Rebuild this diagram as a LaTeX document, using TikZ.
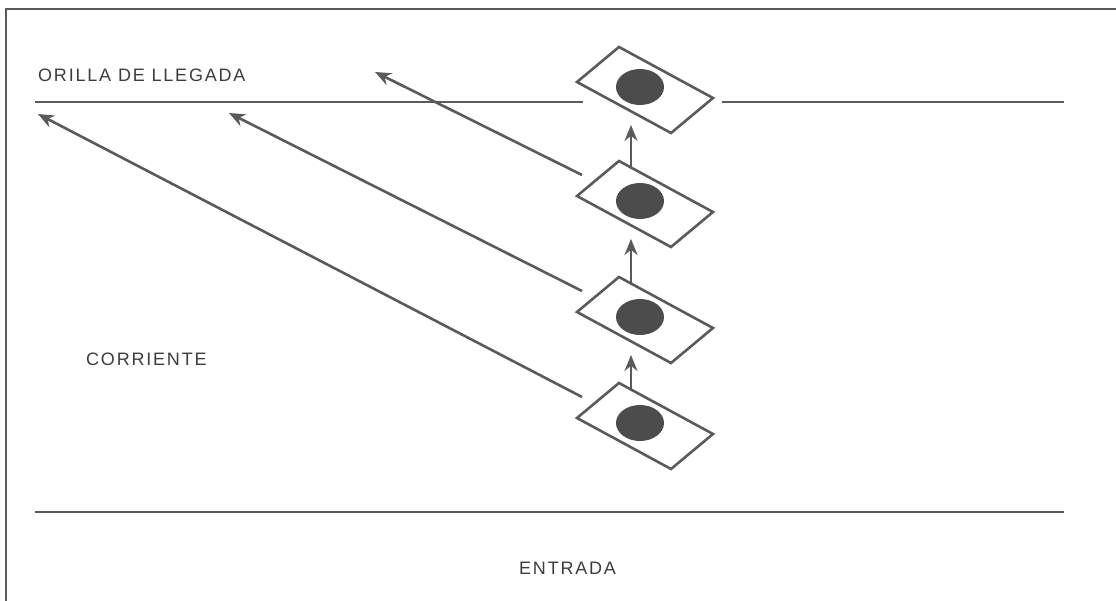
\documentclass[tikz,border=0pt]{standalone}
\usepackage{fontspec}
\setmainfont{Liberation Sans}
\newfontfamily\labfont[LetterSpace=10]{Liberation Sans}
\usetikzlibrary{arrows.meta}
\definecolor{ink}{HTML}{5A5A5A}
\definecolor{dotc}{HTML}{4C4C4C}
\definecolor{txt}{HTML}{3C3C3C}
\tikzset{
  frameline/.style={draw=ink, line width=2pt},
  bankline/.style={draw=ink, line width=1.8pt},
  boatline/.style={draw=ink, line width=2.6pt, line join=miter},
  dotfill/.style={fill=dotc},
  drift/.style={draw=ink, line width=2.6pt, -{Stealth[length=16pt,width=13pt]}},
  lbl/.style={text=txt, font=\labfont\fontsize{18pt}{20pt}\selectfont, inner sep=0pt, anchor=west},
  boat/.pic={
    \draw[boatline] (-26,-43) -- (68,8) -- (26,43) -- (-68,-8) -- cycle;
    \fill[dotfill] (-5,-3) ellipse (24 and 18);
    \coordinate (-up) at (-14,-35);
    \coordinate (-tip) at (-14,35);
    \coordinate (-from) at (-63,-29);
  }
}
\begin{document}
\begin{tikzpicture}[x=1pt, y=-1pt]
\useasboundingbox (0,0) rectangle (1116,601);
% frame
\coordinate (fa) at (6,601);
\coordinate (fb) at (6,9);
\coordinate (fc) at (1116,9);
\draw[frameline] (fa) -- (fb) -- (fc);
% banks
\coordinate (t1) at (35,102);
\coordinate (t2) at (583,102);
\coordinate (t3) at (722,102);
\coordinate (t4) at (1064,102);
\coordinate (u1) at (35,512);
\coordinate (u2) at (1064,512);
\draw[bankline] (t1) -- (t2);
\draw[bankline] (t3) -- (t4);
\draw[bankline] (u1) -- (u2);
% labels
\node[lbl] (orilla) at (38,75) {ORILLA DE LLEGADA};
\node[lbl] (corriente) at (86,359) {CORRIENTE};
\node[lbl] (entrada) at (519,568) {ENTRADA};
% boats
\pic (b1) at (645,90) {boat};
\pic (b2) at (645,204) {boat};
\pic (b3) at (645,320) {boat};
\pic (b4) at (645,426) {boat};
% vertical arrows
\draw[drift] (b2-up) -- (b1-tip);
\draw[drift] (b3-up) -- (b2-tip);
\draw[drift] (b4-up) -- (b3-tip);
% drift arrows
\coordinate (e1) at (375,72);
\coordinate (e2) at (229,113);
\coordinate (e3) at (38,114);
\draw[drift] (b2-from) -- (e1);
\draw[drift] (b3-from) -- (e2);
\draw[drift] (b4-from) -- (e3);
\end{tikzpicture}
\end{document}
